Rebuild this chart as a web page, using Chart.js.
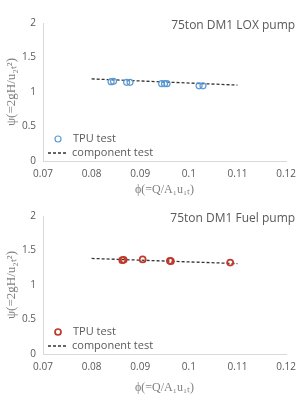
<!DOCTYPE html>
<html lang="en">
<head>
    <meta charset="UTF-8">
    <title>75ton DM1 pump performance</title>
    <script src="https://cdn.jsdelivr.net/npm/chart.js"></script>
    <style>
        body { margin: 0; background: #fff; }
        .panel { position: relative; width: 303px; }
        #top-panel { height: 197px; }
        #bottom-panel { height: 198px; }
    </style>
</head>
<body>
    <div class="panel" id="top-panel"><canvas id="lox-chart"></canvas></div>
    <div class="panel" id="bottom-panel"><canvas id="fuel-chart"></canvas></div>

    <script>
        // LOX pump
        const loxPhi = [0.0840, 0.0845, 0.0872, 0.0879, 0.0944, 0.0950, 0.0955, 0.1021, 0.1029];
        const loxPsi = [1.15, 1.155, 1.14, 1.14, 1.12, 1.12, 1.12, 1.09, 1.09];
        const loxLinePhi = [0.08, 0.11];
        const loxLinePsi = [1.19, 1.10];

        // Fuel pump
        const fuelPhi = [0.0863, 0.0866, 0.0905, 0.0961, 0.0963, 0.1085];
        const fuelPsi = [1.36, 1.365, 1.37, 1.35, 1.345, 1.325];
        const fuelLinePhi = [0.08, 0.11];
        const fuelLinePsi = [1.385, 1.31];

        const xTicks = [0.07, 0.08, 0.09, 0.1, 0.11, 0.12];
        const yTicks = [0, 0.5, 1, 1.5, 2];
        const seriesNames = ['TPU test', 'component test'];

        const tickFont = { family: 'Open Sans', size: 10 };
        const gray = '#595959';

        function pairs(xs, ys) {
            return xs.map((x, i) => ({ x: x, y: ys[i] }));
        }

        // draws the in-plot legend and the pump name
        const overlay = {
            id: 'overlay',
            afterDraw(chart, args, opts) {
                const ctx = chart.ctx;
                const area = chart.chartArea;
                const pts = chart.data.datasets[0];
                const line = chart.data.datasets[1];
                ctx.save();
                ctx.font = '12px "Open Sans"';
                ctx.fillStyle = gray;
                ctx.textAlign = 'right';
                ctx.textBaseline = 'middle';
                ctx.fillText(opts.title, area.right + 9, area.top + 3);

                ctx.textAlign = 'left';
                ctx.font = '11px "Open Sans"';
                const ly1 = area.bottom - 22;
                const ly2 = area.bottom - 8;
                ctx.strokeStyle = pts.borderColor;
                ctx.lineWidth = pts.pointBorderWidth;
                ctx.beginPath();
                ctx.arc(area.left + 15, ly1, 3, 0, Math.PI * 2);
                ctx.stroke();
                ctx.fillText(pts.label, area.left + 30, ly1);

                ctx.strokeStyle = line.borderColor;
                ctx.lineWidth = line.borderWidth;
                ctx.setLineDash(line.borderDash);
                ctx.beginPath();
                ctx.moveTo(area.left + 5, ly2);
                ctx.lineTo(area.left + 24, ly2);
                ctx.stroke();
                ctx.setLineDash([]);
                ctx.fillText(line.label, area.left + 29, ly2);
                ctx.restore();
            }
        };

        function makeChart(id, title, phi, psi, linePhi, linePsi, color, pointWidth, top, xHeight) {
            return new Chart(document.getElementById(id), {
                type: 'scatter',
                data: {
                    datasets: [{
                        label: seriesNames[0],
                        data: pairs(phi, psi),
                        borderColor: color,
                        backgroundColor: 'rgba(255,255,255,0)',
                        pointRadius: 3,
                        pointBorderWidth: pointWidth,
                        showLine: false
                    }, {
                        label: seriesNames[1],
                        data: pairs(linePhi, linePsi),
                        borderColor: '#333333',
                        borderWidth: 1.3,
                        borderDash: [3, 2],
                        pointRadius: 0,
                        showLine: true
                    }]
                },
                options: {
                    responsive: true,
                    maintainAspectRatio: false,
                    animation: false,
                    layout: { padding: { top: top, right: 16, left: 0, bottom: 0 } },
                    plugins: {
                        legend: { display: false },
                        tooltip: { enabled: false },
                        overlay: { title: title }
                    },
                    scales: {
                        x: {
                            type: 'linear',
                            min: 0.07,
                            max: 0.12,
                            afterBuildTicks: s => { s.ticks = xTicks.map(v => ({ value: v })); },
                            afterFit: s => { s.height = xHeight; },
                            grid: { display: false, drawTicks: false },
                            border: { display: true, color: '#d9d9d9' },
                            ticks: { color: gray, font: tickFont, padding: 7, maxRotation: 0,
                                     callback: v => String(v) },
                            title: {
                                display: true,
                                text: 'ϕ(=Q/A₁u₁ₜ)',
                                color: '#7f7f7f',
                                font: { family: 'Liberation Serif', size: 12 },
                                padding: { top: 4, bottom: 0 }
                            }
                        },
                        y: {
                            min: 0,
                            max: 2,
                            afterBuildTicks: s => { s.ticks = yTicks.map(v => ({ value: v })); },
                            afterFit: s => { s.width = 43; },
                            grid: { display: false, drawTicks: false },
                            border: { display: true, color: '#d9d9d9' },
                            ticks: { color: gray, font: tickFont, padding: 7,
                                     callback: v => String(v) },
                            title: {
                                display: true,
                                text: 'ψ(=2gH/u₂ₜ²)',
                                color: '#7f7f7f',
                                font: { family: 'Liberation Serif', size: 13 },
                                padding: { top: 4, bottom: 0 }
                            }
                        }
                    }
                },
                plugins: [overlay]
            });
        }

        makeChart('lox-chart', '75ton DM1 LOX pump', loxPhi, loxPsi, loxLinePhi, loxLinePsi,
                  '#5b9bd5', 1.2, 23, 36);
        makeChart('fuel-chart', '75ton DM1 Fuel pump', fuelPhi, fuelPsi, fuelLinePhi, fuelLinePsi,
                  '#c0392b', 1.7, 19, 41);
    </script>
</body>
</html>
